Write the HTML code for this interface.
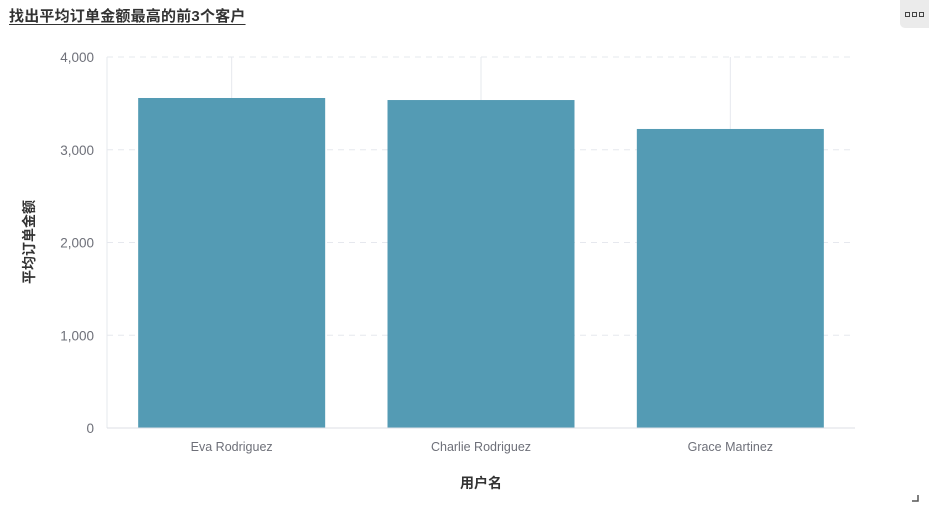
<!DOCTYPE html>
<html><head><meta charset="utf-8"><style>
body{margin:0;width:929px;height:512px;background:#fff;overflow:hidden;font-family:"Liberation Sans","Noto Sans CJK SC",sans-serif;position:relative}
#title{position:absolute;left:9px;top:5px;font-size:15px;font-weight:bold;color:#333;text-decoration:underline;text-underline-offset:3px;letter-spacing:0.2px}
#menu{position:absolute;left:900px;top:0;width:29px;height:28px;background:#ebebeb;border-radius:0 0 0 5px;display:flex;align-items:center;justify-content:center;gap:2px}
#menu span{width:5px;height:5px;border:1.5px solid #444;box-sizing:border-box;display:inline-block}
</style></head><body>
<div id="title">找出平均订单金额最高的前3个客户</div>
<div id="menu"><span></span><span></span><span></span></div>
<svg id="c" width="929" height="512" style="position:absolute;left:0;top:0"></svg>
<script>
const categories=["Eva Rodriguez","Charlie Rodriguez","Grace Martinez"];
const values=[3558,3536,3224];
const ticks=[0,1000,2000,3000,4000];
const tickLabels=["0","1,000","2,000","3,000","4,000"];
const svg=document.getElementById('c');
const NS='http://www.w3.org/2000/svg';
const x0=107,x1=855,y0=428,y1=57,maxV=4000;
const y=v=>y0-(v/maxV)*(y0-y1);
const band=(x1-x0)/categories.length;
const xc=i=>x0+band*(i+0.5);
function mk(t,a,p){const e=document.createElementNS(NS,t);for(const k in a)e.setAttribute(k,a[k]);(p||svg).appendChild(e);return e;}
ticks.forEach((t,i)=>{
 if(t>0){const l=mk('line',{x1:x0,x2:x1,y1:y(t),y2:y(t),stroke:'#e6e8ee','stroke-dasharray':'6,5'});
 
 }
 const tx=mk('text',{x:94,y:y(t)+5,'text-anchor':'end','font-size':13.5,fill:'#6e7079'});
 tx.textContent=tickLabels[i];
 
 
});
mk('line',{x1:x0,x2:x0,y1:y1,y2:y0,stroke:'#e6e8ee'});
categories.forEach((c,i)=>{
 const g=mk('line',{x1:xc(i),x2:xc(i),y1:y1,y2:y0,stroke:'#e6e8ee'});
 
 
 const w=187;
 const r=mk('rect',{x:xc(i)-w/2,y:y(values[i]),width:w,height:y0-y(values[i]),fill:'#549bb4'});
 
 
 const t=mk('text',{x:xc(i),y:451,'text-anchor':'middle','font-size':12.5,fill:'#6e7079'});
 t.textContent=c;
 
 
});
mk('line',{x1:x0,x2:x1,y1:y0,y2:y0,stroke:'#dcdfe6'});
const xt=mk('text',{x:481,y:488,'text-anchor':'middle','font-size':14,'font-weight':'bold',fill:'#333'});
xt.textContent='用户名';


const yt=mk('text',{x:0,y:0,'text-anchor':'middle','font-size':14,'font-weight':'bold',fill:'#333',transform:'translate(34,242) rotate(-90)'});
yt.textContent='平均订单金额';


const rz=mk('path',{d:'M912 501 L918 501 L918 495',stroke:'#555','stroke-width':1.5,fill:'none'});


</script>
</body></html>
